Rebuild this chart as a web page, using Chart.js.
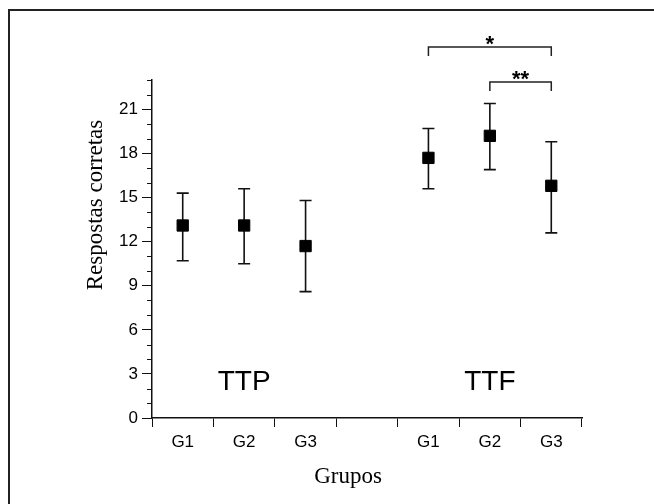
<!DOCTYPE html>
<html>
<head>
<meta charset="utf-8">
<style>
  html, body { margin: 0; padding: 0; background: #fff; }
  #grafico { display: block; }
</style>
<script src="https://cdn.jsdelivr.net/npm/chart.js@4.4.0/dist/chart.umd.min.js"></script>
</head>
<body>
<canvas id="grafico" width="654" height="504"></canvas>
<script>
// dados
let grupos = ["G1", "G2", "G3", "", "G1", "G2", "G3"];
let medias = [13.1, 13.1, 11.7, null, 17.7, 19.2, 15.8];
let limiteSup = [15.3, 15.6, 14.8, null, 19.7, 21.4, 18.8];
let limiteInf = [10.7, 10.5, 8.6, null, 15.6, 16.9, 12.6];
let yTicks = [0, 3, 6, 9, 12, 15, 18, 21];
let condicoes = ["TTP", "TTF"];
let condicaoPos = [1, 5];
let condicaoY = 2.4;
let comparacoes = [[4, 6, "*"], [5, 6, "**"]];

const serif = "'Liberation Serif', 'DejaVu Serif', serif";
const sans = "'Liberation Sans', Arial, sans-serif";

const extras = {
  id: 'extras',
  beforeDraw(chart) {
    const ctx = chart.ctx;
    ctx.save();
    // moldura (só esquerda e topo)
    ctx.strokeStyle = '#222';
    ctx.lineWidth = 2;
    ctx.beginPath();
    ctx.moveTo(9, 504);
    ctx.lineTo(9, 10);
    ctx.lineTo(654, 10);
    ctx.stroke();
    ctx.restore();
  },
  beforeDatasetsDraw(chart) {
    const ctx = chart.ctx;
    const x = chart.scales.x;
    const y = chart.scales.y;
    ctx.save();
    ctx.strokeStyle = '#111';
    ctx.lineWidth = 1.6;
    medias.forEach((m, i) => {
      if (m === null) return;
      const px = x.getPixelForValue(i);
      const top = y.getPixelForValue(limiteSup[i]);
      const bot = y.getPixelForValue(limiteInf[i]);
      ctx.beginPath();
      ctx.moveTo(px, top);
      ctx.lineTo(px, bot);
      ctx.moveTo(px - 6, top);
      ctx.lineTo(px + 6, top);
      ctx.moveTo(px - 6, bot);
      ctx.lineTo(px + 6, bot);
      ctx.stroke();
    });
    ctx.restore();
  },
  afterDraw(chart) {
    const ctx = chart.ctx;
    const x = chart.scales.x;
    const y = chart.scales.y;
    ctx.save();

    // ticks menores do eixo y
    ctx.strokeStyle = '#111';
    ctx.lineWidth = 1;
    for (let v = y.min; v <= y.max; v++) {
      if (v % 3 === 0) continue;
      const py = Math.round(y.getPixelForValue(v)) + 0.5;
      ctx.beginPath();
      ctx.moveTo(x.left - 5, py);
      ctx.lineTo(x.left, py);
      ctx.stroke();
    }

    // TTP / TTF
    ctx.fillStyle = '#000';
    ctx.font = "28px " + sans;
    ctx.textAlign = 'center';
    ctx.textBaseline = 'middle';
    condicoes.forEach((c, i) => {
      ctx.fillText(c, x.getPixelForValue(condicaoPos[i]), y.getPixelForValue(condicaoY));
    });

    // colchetes de significância
    const alturas = [47, 82];
    ctx.strokeStyle = '#222';
    ctx.lineWidth = 1.5;
    comparacoes.forEach(([a, b, txt], k) => {
      const x1 = x.getPixelForValue(a);
      const x2 = x.getPixelForValue(b);
      const h = alturas[k];
      ctx.beginPath();
      ctx.moveTo(x1, h + 9);
      ctx.lineTo(x1, h);
      ctx.lineTo(x2, h);
      ctx.lineTo(x2, h + 9);
      ctx.stroke();
      ctx.font = "bold 22px " + sans;
      ctx.fillText(txt, (x1 + x2) / 2, h - 2);
    });

    // títulos dos eixos
    ctx.font = "23px " + serif;
    ctx.textBaseline = 'alphabetic';
    ctx.fillText("Grupos", 348, 483);
    ctx.translate(102, 205);
    ctx.rotate(-Math.PI / 2);
    ctx.fillText("Respostas corretas", 0, 0);
    ctx.restore();
  }
};

const ctx = document.getElementById('grafico').getContext('2d');
new Chart(ctx, {
  type: 'line',
  data: {
    labels: grupos,
    datasets: [{
      data: medias,
      showLine: false,
      pointStyle: 'rect',
      pointRadius: 8,
      borderWidth: 1,
      backgroundColor: '#000',
      borderColor: '#000'
    }]
  },
  options: {
    responsive: false,
    animation: false,
    devicePixelRatio: 1,
    layout: { padding: { top: 80, right: 72, left: 0, bottom: 0 } },
    plugins: { legend: { display: false }, tooltip: { enabled: false } },
    scales: {
      x: {
        type: 'category',
        offset: true,
        grid: { offset: true, drawOnChartArea: false, tickLength: 9, tickColor: '#111', tickWidth: 1 },
        border: { color: '#111', width: 1.5 },
        ticks: { color: '#000', font: { family: sans, size: 17 }, padding: 5, maxRotation: 0 },
        afterFit(scale) { scale.height = 86; }
      },
      y: {
        min: 0,
        max: 23,
        grid: {
          drawOnChartArea: false,
          tickLength: 10,
          tickWidth: 1,
          tickColor: c => yTicks.includes(c.tick.value) ? '#111' : 'rgba(0,0,0,0)'
        },
        border: { color: '#111', width: 1.5 },
        ticks: {
          stepSize: 1,
          autoSkip: false,
          color: '#000',
          padding: 4,
          font: { family: sans, size: 17 },
          callback: v => yTicks.includes(v) ? v : ''
        },
        afterFit(scale) { scale.width = 152; }
      }
    }
  },
  plugins: [extras]
});
</script>
</body>
</html>
